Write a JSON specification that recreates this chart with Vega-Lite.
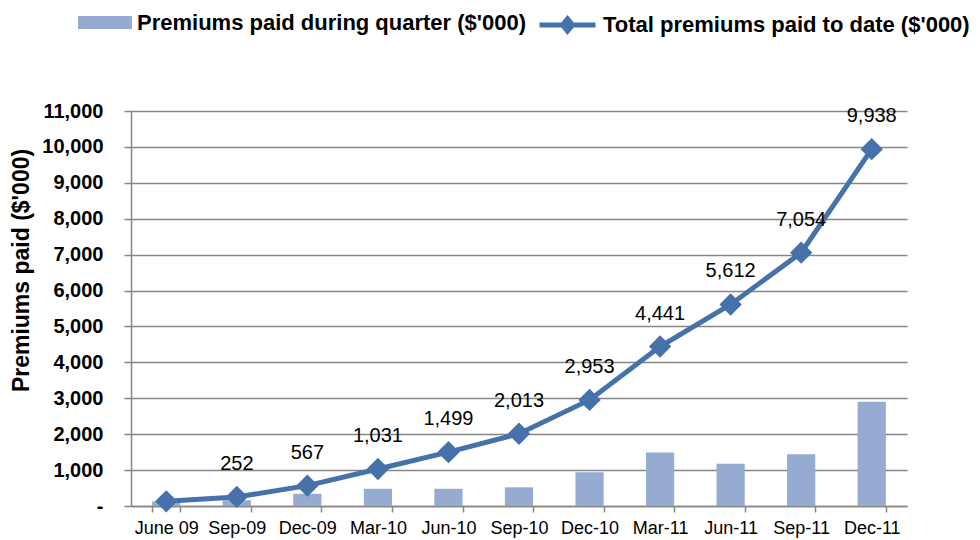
{
  "$schema": "https://vega.github.io/schema/vega-lite/v6.json",
  "width": 776,
  "height": 395,
  "autosize": {"type": "none"},
  "padding": {"left": 131, "top": 111, "right": 73, "bottom": 34},
  "background": "white",
  "config": {
    "view": {"stroke": null},
    "font": "Liberation Sans",
    "axisY": {
      "tickCount": 11,
      "labelOverlap": false,
      "grid": true,
      "gridColor": "#868686",
      "gridWidth": 1.5,
      "domainColor": "#868686",
      "domainWidth": 1.5,
      "tickColor": "#868686",
      "tickSize": 7,
      "tickWidth": 1.5,
      "labelFont": "Liberation Sans",
      "labelFontSize": 20,
      "labelFontWeight": "bold",
      "labelColor": "black",
      "labelPadding": 21,
      "titleFont": "Liberation Sans",
      "titleFontSize": 23,
      "titleFontWeight": "bold",
      "titleColor": "black"
    }
  },
  "data": {
    "values": [
      {"quarter": "June 09", "quarterly": 130, "total": 130, "label": ""},
      {"quarter": "Sep-09", "quarterly": 160, "total": 252, "label": "252"},
      {"quarter": "Dec-09", "quarterly": 340, "total": 567, "label": "567"},
      {"quarter": "Mar-10", "quarterly": 480, "total": 1031, "label": "1,031"},
      {"quarter": "Jun-10", "quarterly": 480, "total": 1499, "label": "1,499"},
      {"quarter": "Sep-10", "quarterly": 520, "total": 2013, "label": "2,013"},
      {"quarter": "Dec-10", "quarterly": 940, "total": 2953, "label": "2,953"},
      {"quarter": "Mar-11", "quarterly": 1490, "total": 4441, "label": "4,441"},
      {"quarter": "Jun-11", "quarterly": 1180, "total": 5612, "label": "5,612"},
      {"quarter": "Sep-11", "quarterly": 1440, "total": 7054, "label": "7,054"},
      {"quarter": "Dec-11", "quarterly": 2900, "total": 9938, "label": "9,938"}
    ]
  },
  "encoding": {
    "x": {
      "field": "quarter",
      "type": "nominal",
      "sort": null,
      "scale": {"paddingInner": 0.6, "paddingOuter": 0.3},
      "axis": {
        "title": null,
        "tickBand": "extent",
        "labelAngle": 0,
        "labelFont": "Liberation Sans",
        "labelFontSize": 18,
        "labelColor": "black",
        "labelPadding": 7,
        "tickColor": "#868686",
        "tickSize": 6,
        "tickWidth": 1.5,
        "domainColor": "#868686",
        "domainWidth": 1.5,
        "grid": false
      }
    }
  },
  "layer": [
    {
      "mark": {"type": "bar"},
      "encoding": {
        "y": {
          "field": "quarterly",
          "type": "quantitative",
          "scale": {"domain": [0, 11000], "nice": false},
          "axis": {
            "title": "Premiums paid ($'000)",
            "labelExpr": "datum.value === 0 ? '-\u00a0\u00a0' : format(datum.value, ',')",
            "titleAngle": 270,
            "titleBaseline": "alphabetic",
            "titleAlign": "center",
            "titleX": -103,
            "titleY": 159
          }
        },
        "fill": {
          "datum": "Premiums paid during quarter ($'000)",
          "scale": {"range": ["#95abd1"]},
          "legend": {
            "orient": "none",
            "legendX": -53,
            "legendY": -115.5,
            "title": null,
            "padding": 0,
            "labelFont": "Liberation Sans",
            "labelFontSize": 22,
            "labelFontWeight": "bold",
            "labelColor": "black",
            "labelLimit": 800,
            "labelOffset": 5,
            "symbolSize": 2916,
            "symbolType": "M-1,-0.24H1V0.24H-1Z",
            "symbolStrokeWidth": 0
          }
        }
      }
    },
    {
      "mark": {
        "type": "line",
        "strokeWidth": 5,
        "point": {"shape": "diamond", "size": 380, "filled": true, "fill": "#4572aa", "color": "#4572aa"}
      },
      "encoding": {
        "y": {
          "field": "total",
          "type": "quantitative",
          "axis": {
            "title": "Premiums paid ($'000)",
            "labelExpr": "datum.value === 0 ? '-\u00a0\u00a0' : format(datum.value, ',')",
            "titleAngle": 270,
            "titleBaseline": "alphabetic",
            "titleAlign": "center",
            "titleX": -103,
            "titleY": 159
          }
        },
        "stroke": {
          "datum": "Total premiums paid to date ($'000)",
          "scale": {"range": ["#4572aa"]},
          "legend": {
            "orient": "none",
            "legendX": 406,
            "legendY": -116.5,
            "title": null,
            "padding": 0,
            "labelFont": "Liberation Sans",
            "labelFontSize": 22,
            "labelFontWeight": "bold",
            "labelColor": "black",
            "labelLimit": 800,
            "labelOffset": 5,
            "symbolSize": 3136,
            "symbolType": "M-1,0H1M0,-0.22L0.18,0L0,0.22L-0.18,0Z",
            "symbolStrokeWidth": 5,
            "symbolFillColor": "#4572aa"
          }
        }
      }
    },
    {
      "mark": {"type": "text", "dy": -33, "baseline": "middle", "align": "center", "font": "Liberation Sans", "fontSize": 20, "color": "black"},
      "encoding": {
        "y": {
          "field": "total",
          "type": "quantitative",
          "axis": {
            "title": "Premiums paid ($'000)",
            "labelExpr": "datum.value === 0 ? '-\u00a0\u00a0' : format(datum.value, ',')",
            "titleAngle": 270,
            "titleBaseline": "alphabetic",
            "titleAlign": "center",
            "titleX": -103,
            "titleY": 159
          }
        },
        "text": {"field": "label", "type": "nominal"}
      }
    }
  ]
}
